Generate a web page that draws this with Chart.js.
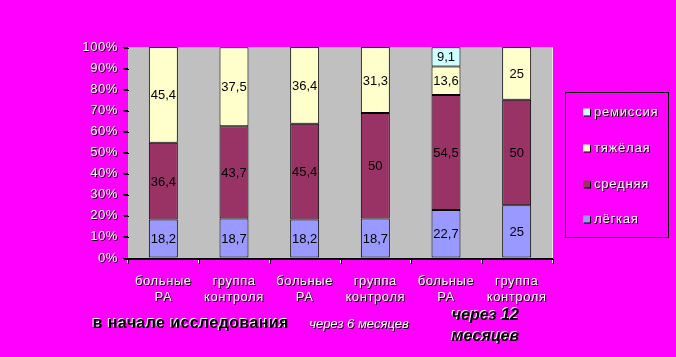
<!DOCTYPE html>
<html><head><meta charset="utf-8">
<script src="https://cdn.jsdelivr.net/npm/chart.js@4"></script>
<style>html,body{margin:0;padding:0;background:#FF00FF;overflow:hidden}</style>
</head><body>
<canvas id="c" width="676" height="357" style="display:block;width:676px;height:357px"></canvas>
<script>
const categories = [['больные','РА'],['группа','контроля'],['больные','РА'],['группа','контроля'],['больные','РА'],['группа','контроля']];
const seriesNames = ['лёгкая','средняя','тяжёлая','ремиссия'];
const legkaya = [18.2, 18.7, 18.2, 18.7, 22.7, 25];
const srednyaya = [36.4, 43.7, 45.4, 50, 54.5, 50];
const tyazhelaya = [45.4, 37.5, 36.4, 31.3, 13.6, 25];
const remissiya = [0, 0, 0, 0, 9.1, 0];
const yTickLabels = ['0%','10%','20%','30%','40%','50%','60%','70%','80%','90%','100%'];
const groupLabels = [['в начале исследования'], ['через 6 месяцев'], ['через 12','месяцев']];
const groupSpans = [[0,1],[2,3],[4,5]];
const seriesColors = ['#9999FF','#993366','#FFFFCC','#CCFFFF'];

const FONT = '"Liberation Sans", Arial, sans-serif';
const fmt = v => String(v).replace('.', ',');

function setShadow(ctx, color, dx, dy){
  ctx.shadowColor = color; ctx.shadowOffsetX = dx; ctx.shadowOffsetY = dy; ctx.shadowBlur = 0;
}
function clearShadow(ctx){
  ctx.shadowColor = 'rgba(0,0,0,0)'; ctx.shadowOffsetX = 0; ctx.shadowOffsetY = 0; ctx.shadowBlur = 0;
}

const decor = {
  id: 'decor',
  beforeDraw(chart){
    const ctx = chart.ctx, a = chart.chartArea;
    ctx.save();
    ctx.fillStyle = '#FF00FF';
    ctx.fillRect(0, 0, chart.width, chart.height);
    ctx.fillStyle = '#C0C0C0';
    ctx.fillRect(a.left, a.top, a.right - a.left, a.bottom - a.top);
    ctx.fillStyle = '#E8E8E8';
    ctx.fillRect(a.right, a.top, 1, a.bottom - a.top);
    ctx.restore();
    setShadow(ctx, '#000', 1, 1);
    ctx.letterSpacing = '0.6px';
  },
  beforeDatasetsDraw(chart){
    clearShadow(chart.ctx);
    chart.ctx.letterSpacing = '0px';
  },
  afterDatasetsDraw(chart){
    const ctx = chart.ctx;
    ctx.save();
    clearShadow(ctx);
    ctx.font = '13px ' + FONT;
    ctx.fillStyle = '#000';
    ctx.textAlign = 'center';
    ctx.textBaseline = 'middle';
    chart.data.datasets.forEach((ds, di) => {
      const meta = chart.getDatasetMeta(di);
      meta.data.forEach((bar, i) => {
        const v = ds.data[i];
        if (!v) return;
        const p = bar.getProps(['x','y','base']);
        ctx.fillText(fmt(v), p.x, (p.y + p.base) / 2 + 1);
      });
    });
    ctx.restore();

    // legend
    ctx.save();
    ctx.strokeStyle = '#000';
    ctx.lineWidth = 1;
    ctx.strokeRect(565.5, 92.5, 103, 145);
    const order = [3, 2, 1, 0];
    const ys = [112, 148, 184, 219];
    ctx.font = '13px ' + FONT;
    ctx.letterSpacing = '0.8px';
    ctx.textBaseline = 'middle';
    ctx.textAlign = 'left';
    order.forEach((di, k) => {
      const ds = chart.data.datasets[di];
      setShadow(ctx, '#000', 1, 1);
      ctx.fillStyle = ds.backgroundColor;
      ctx.fillRect(583, ys[k] - 3.5, 7, 7);
      ctx.fillStyle = '#FFFFFF';
      ctx.fillText(ds.label, 594, ys[k]);
    });
    ctx.restore();

    // group labels under the axis
    const x = chart.scales.x;
    const styles = [
      {font: 'bold 16px ' + FONT, color: '#000', sh: '#FFF', dx: -1, dy: -1, off: -8, ys: [324], ls: '0.4px'},
      {font: 'italic 13px ' + FONT, color: '#FFF', sh: '#000', dx: 1, dy: 1, off: 19, ys: [324], ls: '0px'},
      {font: 'bold italic 16px ' + FONT, color: '#000', sh: '#FFF', dx: -1, dy: -1, off: 4, ys: [316, 337], ls: '0px'}
    ];
    ctx.save();
    ctx.textAlign = 'center';
    ctx.textBaseline = 'middle';
    groupLabels.forEach((lines, g) => {
      const s = styles[g];
      const cx = (x.getPixelForValue(groupSpans[g][0]) + x.getPixelForValue(groupSpans[g][1])) / 2 + s.off;
      ctx.font = s.font;
      ctx.letterSpacing = s.ls;
      ctx.fillStyle = s.color;
      setShadow(ctx, s.sh, s.dx, s.dy);
      lines.forEach((t, li) => ctx.fillText(t, cx, s.ys[li]));
    });
    ctx.restore();
  }
};

const seriesData = [legkaya, srednyaya, tyazhelaya, remissiya];
new Chart(document.getElementById('c'), {
  type: 'bar',
  data: {
    labels: categories,
    datasets: seriesData.map((d, i) => ({
      label: seriesNames[i],
      data: d,
      backgroundColor: seriesColors[i],
      borderColor: '#000',
      borderWidth: ctx => (ctx.raw ? 1 : 0),
      borderSkipped: false,
      barPercentage: 0.41,
      categoryPercentage: 1.0
    }))
  },
  options: {
    responsive: false,
    animation: false,
    devicePixelRatio: 1,
    layout: {padding: {left: 0, right: 124, top: 47, bottom: 0}},
    plugins: {legend: {display: false}, tooltip: {enabled: false}},
    scales: {
      x: {
        stacked: true,
        grid: {display: true, offset: true, drawOnChartArea: false, drawTicks: true, tickLength: 5, color: '#FFFFFF'},
        border: {display: true, color: '#000', width: 1},
        ticks: {color: '#FFFFFF', font: {family: FONT, size: 13, lineHeight: 1.23}, padding: 10, maxRotation: 0, autoSkip: false},
        afterFit: s => { s.height = 99; }
      },
      y: {
        stacked: true,
        min: 0, max: 100,
        grid: {display: true, drawOnChartArea: false, drawTicks: true, tickLength: 5, color: '#000'},
        border: {display: false},
        ticks: {stepSize: 10, color: '#FFFFFF', font: {family: FONT, size: 13}, padding: 5,
          callback: (v, i) => yTickLabels[i]},
        afterFit: s => { s.width = 128; }
      }
    }
  },
  plugins: [decor]
});
</script>
</body></html>
